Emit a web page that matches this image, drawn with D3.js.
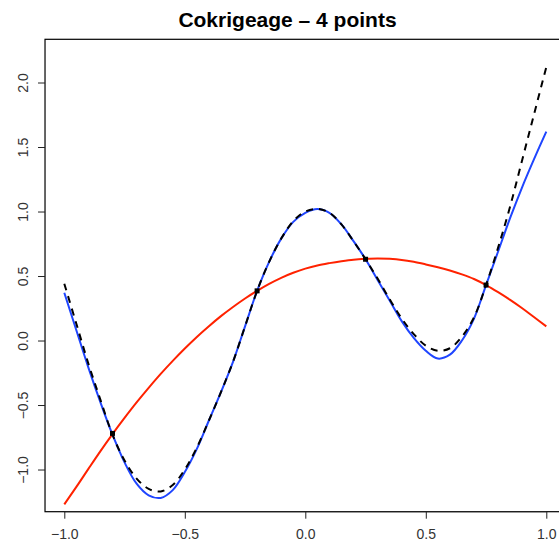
<!DOCTYPE html>
<html>
<head>
<meta charset="utf-8">
<script src="https://cdn.jsdelivr.net/npm/d3@7"></script>
<style>
html,body{margin:0;padding:0;background:#fff;}
svg{display:block;}
</style>
</head>
<body>
<svg id="chart" width="559" height="548"></svg>
<script>
const title = "Cokrigeage \u2013 4 points";
const xs = [-1.00,-0.95,-0.90,-0.85,-0.80,-0.75,-0.70,-0.65,-0.60,-0.55,-0.50,-0.45,-0.40,-0.35,-0.30,-0.25,-0.20,-0.15,-0.10,-0.05,
  0.00,0.05,0.10,0.15,0.20,0.25,0.30,0.35,0.40,0.45,0.50,0.55,0.60,0.65,0.70,0.75,0.80,0.85,0.90,0.95,1.00];
const trueFn = [0.37,0.08,-0.21,-0.48,-0.73,-0.945,-1.11,-1.20,-1.22,-1.16,-1.02,-0.84,-0.62,-0.40,-0.165,0.11,0.385,0.61,0.79,0.92,
  0.99,1.02,0.99,0.90,0.77,0.63,0.47,0.31,0.15,0.02,-0.08,-0.14,-0.11,0.00,0.17,0.43,0.69,0.95,1.19,1.41,1.62];
const cokriging = [0.44,0.13,-0.18,-0.46,-0.73,-0.93,-1.07,-1.15,-1.17,-1.12,-1.00,-0.83,-0.62,-0.40,-0.165,0.11,0.385,0.61,0.79,0.925,
  1.00,1.02,0.99,0.90,0.77,0.63,0.48,0.32,0.17,0.05,-0.04,-0.08,-0.06,0.03,0.18,0.43,0.72,1.04,1.40,1.76,2.12];
const lowFi = [-1.27,-1.135,-0.995,-0.857,-0.725,-0.60,-0.48,-0.367,-0.259,-0.158,-0.062,0.028,0.111,0.189,0.26,0.326,0.385,0.439,0.486,0.525,
  0.557,0.582,0.60,0.615,0.627,0.633,0.636,0.633,0.625,0.61,0.59,0.568,0.543,0.513,0.477,0.43,0.375,0.315,0.25,0.18,0.11];
const ptsX = [-0.80,-0.20,0.25,0.75];
const ptsY = [-0.72,0.385,0.63,0.43];
const xTicks = [-1.0,-0.5,0.0,0.5,1.0];
const yTicks = [-1.0,-0.5,0.0,0.5,1.0,1.5,2.0];

const svg = d3.select("#chart");
const x = d3.scaleLinear().domain([-1,1]).range([64.3,546.3]);
const y = d3.scaleLinear().domain([-1.327,2.335]).range([511.7,39.3]);
const font = "'Liberation Sans', Arial, Helvetica, sans-serif";

// box
const bx0 = x(-1.08), bx1 = x(1.08);
svg.append("rect").attr("x",bx0).attr("y",y(2.335)).attr("width",bx1-bx0).attr("height",y(-1.327)-y(2.335))
  .attr("fill","none").attr("stroke","#000").attr("stroke-width",1.2);

// x axis
const xAxis = d3.axisBottom(x).tickValues(xTicks).tickFormat(d3.format(".1f")).tickSize(7).tickPadding(10);
const gx = svg.append("g").attr("transform",`translate(0,${y(-1.327)})`).call(xAxis);
gx.select(".domain").attr("d",`M${x(-1)},0H${x(1)}`).attr("stroke","#222");
gx.selectAll(".tick line").attr("stroke","#222");
gx.selectAll("text").attr("font-family",font).attr("font-size",14).attr("fill","#333");

// y axis
const yAxis = d3.axisLeft(y).tickValues(yTicks).tickFormat(d3.format(".1f")).tickSize(7).tickPadding(0);
const gy = svg.append("g").attr("transform",`translate(${bx0},0)`).call(yAxis);
gy.select(".domain").remove();
gy.selectAll(".tick line").attr("stroke","#222");
gy.selectAll(".tick text").attr("font-family",font).attr("font-size",14).attr("fill","#333")
  .attr("text-anchor","middle").attr("transform","rotate(-90)").attr("x",0).attr("y",-17.5).attr("dy",0);

// lines
svg.append("clipPath").attr("id","clip").append("rect")
  .attr("x",bx0).attr("y",y(2.335)).attr("width",bx1-bx0).attr("height",y(-1.327)-y(2.335));
const plot = svg.append("g").attr("clip-path","url(#clip)");
const line = d3.line().x(d=>x(d[0])).y(d=>y(d[1])).curve(d3.curveCatmullRom.alpha(0.5));

plot.append("path").datum(xs.map((v,i)=>[v,lowFi[i]])).attr("d",line)
  .attr("fill","none").attr("stroke","#ff2200").attr("stroke-width",2);
plot.append("path").datum(xs.map((v,i)=>[v,trueFn[i]])).attr("d",line)
  .attr("fill","none").attr("stroke","#1f45ff").attr("stroke-width",2);
plot.append("path").datum(xs.map((v,i)=>[v,cokriging[i]])).attr("d",line)
  .attr("fill","none").attr("stroke","#000").attr("stroke-width",2).attr("stroke-dasharray","7,6");

plot.selectAll("rect.pt").data(ptsX.map((v,i)=>[v,ptsY[i]])).enter().append("rect")
  .attr("class","pt").attr("x",d=>x(d[0])-2.5).attr("y",d=>y(d[1])-2.5)
  .attr("width",5).attr("height",5).attr("fill","#000");

// title
svg.append("text").attr("x",287.5).attr("y",27).attr("text-anchor","middle")
  .attr("font-family",font).attr("font-weight","bold").attr("font-size",21).text(title);
</script>
</body>
</html>
